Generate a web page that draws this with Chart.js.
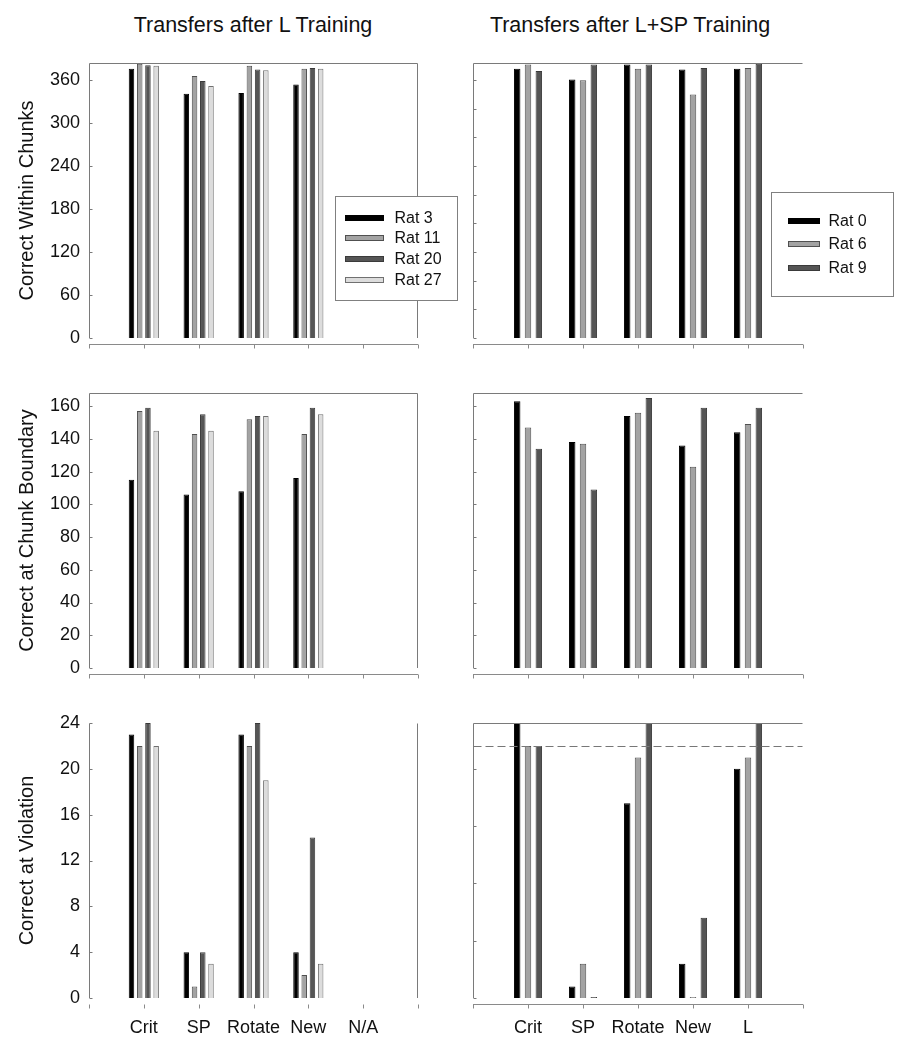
<!DOCTYPE html>
<html>
<head>
<meta charset="utf-8">
<script src="https://cdn.jsdelivr.net/npm/chart.js@4.4.1/dist/chart.umd.min.js"></script>
<style>
  body { margin: 0; background: #fff; width: 899px; height: 1050px; position: relative; overflow: hidden;
         font-family: "Liberation Sans", Arial, sans-serif; }
  canvas { position: absolute; }
  .title { position: absolute; top: 13px; width: 400px; text-align: center; font-size: 21.5px; color: #111; }
</style>
</head>
<body>
<div class="title" style="left:53px">Transfers after L Training</div>
<div class="title" style="left:430px">Transfers after L+SP Training</div>

<canvas id="withinL"></canvas>
<canvas id="withinR"></canvas>
<canvas id="boundaryL"></canvas>
<canvas id="boundaryR"></canvas>
<canvas id="violationL"></canvas>
<canvas id="violationR"></canvas>

<script>
// categories
const leftCats = ["Crit", "SP", "Rotate", "New", "N/A"];
const rightCats = ["Crit", "SP", "Rotate", "New", "L"];
const leftRats = ["Rat 3", "Rat 11", "Rat 20", "Rat 27"];
const rightRats = ["Rat 0", "Rat 6", "Rat 9"];

// y tick values
const withinTicksL = [0, 60, 120, 180, 240, 300, 360];
const withinTicksR = [0, 40, 80, 120, 160, 200, 240, 280, 320, 360];
const boundaryTicks = [0, 20, 40, 60, 80, 100, 120, 140, 160];
const violationTicksL = [0, 4, 8, 12, 16, 20, 24];
const violationTicksR = [0, 5, 10, 15, 20];

// after L training: Crit, SP, Rotate, New (N/A empty)
const withinL3 = [376, 341, 342, 354];
const withinL11 = [383, 366, 380, 376];
const withinL20 = [381, 359, 375, 377];
const withinL27 = [380, 352, 374, 376];

const boundaryL3 = [115, 106, 108, 116];
const boundaryL11 = [157, 143, 152, 143];
const boundaryL20 = [159, 155, 154, 159];
const boundaryL27 = [145, 145, 154, 155];

const violationL3 = [23, 4, 23, 4];
const violationL11 = [22, 1, 22, 2];
const violationL20 = [24, 4, 24, 14];
const violationL27 = [22, 3, 19, 3];

// after L+SP training: Crit, SP, Rotate, New, L
const withinR0 = [376, 361, 382, 375, 376];
const withinR6 = [382, 360, 376, 340, 377];
const withinR9 = [373, 382, 382, 377, 383];

const boundaryR0 = [163, 138, 154, 136, 144];
const boundaryR6 = [147, 137, 156, 123, 149];
const boundaryR9 = [134, 109, 165, 159, 159];

const violationR0 = [24, 1, 17, 3, 20];
const violationR6 = [22, 3, 21, 0, 21];
const violationR9 = [22, 0, 24, 7, 24];

const criterion = 22;

const ratFills = ["#000000", "#a3a3a3", "#555555", "#dcdcdc"];
const ratBorders = ["#000000", "#505050", "#3a3a3a", "#707070"];
const FONT = '"Liberation Sans", Arial, sans-serif';

// draws the frame, inward y ticks, detached x axis, legend and criterion line
const panelDecor = {
  id: "panelDecor",
  afterDatasetsDraw(chart, args, o) {
    const ctx = chart.ctx;
    const ca = chart.chartArea;
    const xs = chart.scales.x, ys = chart.scales.y;
    ctx.save();
    ctx.lineWidth = 1;
    ctx.strokeStyle = "#7a7a7a";
    const L = Math.round(ca.left) + 0.5, R = Math.round(ca.right) - 0.5;
    const T = Math.round(ca.top) + 0.5, B = Math.round(ca.bottom);
    ctx.beginPath();
    ctx.moveTo(L, B); ctx.lineTo(L, T);
    if (o.frameTop) { ctx.moveTo(L, T); ctx.lineTo(R, T); }
    if (o.frameRight) { ctx.moveTo(R, T); ctx.lineTo(R, B); }
    ctx.stroke();

    // inward tick marks on y axis
    ctx.beginPath();
    ys.ticks.forEach(t => {
      const y = Math.round(ys.getPixelForValue(t.value)) + 0.5;
      ctx.moveTo(L, y); ctx.lineTo(L + 3, y);
    });
    ctx.stroke();

    // detached x axis
    const ay = B + 6.5;
    ctx.strokeStyle = "#8a8a8a";
    ctx.beginPath();
    if (o.axisLine) { ctx.moveTo(L - 0.5, ay); ctx.lineTo(R + 0.5, ay); }
    xs.ticks.forEach((t, i) => {
      const x = Math.round(xs.getPixelForTick(i)) + 0.5;
      ctx.moveTo(x, ay); ctx.lineTo(x, ay + 4);
    });
    ctx.stroke();

    if (o.criterion != null) {
      const y = Math.round(ys.getPixelForValue(o.criterion)) + 0.5;
      ctx.setLineDash([8, 4]);
      ctx.strokeStyle = "#777";
      ctx.beginPath(); ctx.moveTo(L, y); ctx.lineTo(R, y); ctx.stroke();
      ctx.setLineDash([]);
    }

    const lg = o.legend;
    if (lg) {
      const bx = Math.round(ca.left + lg.x) + 0.5, by = Math.round(ca.top + lg.y) + 0.5;
      ctx.fillStyle = "#fff";
      ctx.fillRect(bx, by, lg.w, lg.h);
      ctx.strokeStyle = "#808080";
      ctx.strokeRect(bx, by, lg.w, lg.h);
      ctx.font = "16px " + FONT;
      ctx.textBaseline = "middle";
      chart.data.datasets.forEach((ds, i) => {
        const ry = Math.round(by + lg.row0 + i * lg.gap);
        ctx.fillStyle = ds.backgroundColor;
        ctx.fillRect(bx + lg.sx, ry - 3, lg.sw, 6);
        ctx.strokeStyle = ds.borderColor;
        ctx.strokeRect(bx + lg.sx, ry - 3 + 0.5, lg.sw, 5);
        ctx.fillStyle = "#111";
        ctx.fillText(ds.label, bx + lg.tx, ry + 1);
      });
    }
    ctx.restore();
  }
};

const rowTops = [43, 373, 703];
const plotH = 275;

function makePanel(id, col, row, cats, names, series, cfg) {
  const el = document.getElementById(id);
  const xH = row === 2 ? 50 : 30;
  const w = col === 0 ? 470 : 459;
  const h = 20 + plotH + xH;
  el.width = w; el.height = h;
  el.style.left = (col === 0 ? 0 : 440) + "px";
  el.style.top = rowTops[row] + "px";
  el.style.width = w + "px"; el.style.height = h + "px";

  const labels = ["", ...cats, ""];
  const datasets = series.map((vals, i) => ({
    label: names[i],
    data: [null, ...vals, ...Array(labels.length - 1 - vals.length).fill(null)],
    backgroundColor: ratFills[i],
    borderColor: ratBorders[i],
    borderWidth: 1,
    categoryPercentage: col === 0 ? 0.6 : 0.59,
    barPercentage: col === 0 ? 0.67 : 0.6,
    minBarLength: cfg.minBar || 0
  }));

  return new Chart(el, {
    type: "bar",
    data: { labels, datasets },
    plugins: [panelDecor],
    options: {
      responsive: false,
      animation: false,
      devicePixelRatio: 1,
      layout: { padding: { left: col === 0 ? 11 : 0, right: col === 0 ? 52 : 96, top: 20, bottom: 0 } },
      plugins: {
        legend: { display: false },
        tooltip: { enabled: false },
        panelDecor: {
          frameTop: cfg.frameTop !== false,
          frameRight: col === 0,
          axisLine: cfg.axisLine !== false,
          legend: cfg.legend,
          criterion: cfg.criterion
        }
      },
      scales: {
        x: {
          type: "category",
          offset: false,
          grid: { display: false, drawTicks: false },
          border: { display: false },
          ticks: { display: row === 2, autoSkip: false, maxRotation: 0, padding: 19,
                   color: "#111", font: { family: FONT, size: 18 } },
          afterFit: s => { s.height = xH; }
        },
        y: {
          min: 0, max: cfg.max,
          grid: { display: false, drawTicks: false },
          border: { display: false },
          ticks: { display: col === 0, padding: 9,
                   color: "#111", font: { family: FONT, size: 18 } },
          title: { display: !!cfg.yTitle, text: cfg.yTitle, color: "#111",
                   font: { family: FONT, size: 20 }, padding: { top: 4, bottom: 4 } },
          afterBuildTicks: s => { s.ticks = cfg.ticks.map(v => ({ value: v })); },
          afterFit: s => { s.width = col === 0 ? 78 : 33; }
        }
      }
    }
  });
}

const legendL = { x: 246, y: 133, w: 122, h: 104, row0: 21, gap: 20.7, sx: 10, sw: 38, tx: 59 };
const legendR = { x: 298, y: 129, w: 122, h: 104, row0: 28, gap: 23.5, sx: 17, sw: 31, tx: 57 };

makePanel("withinL", 0, 0, leftCats, leftRats,
  [withinL3, withinL11, withinL20, withinL27],
  { max: 384, ticks: withinTicksL, yTitle: "Correct Within Chunks", legend: legendL });
makePanel("withinR", 1, 0, rightCats, rightRats,
  [withinR0, withinR6, withinR9],
  { max: 384, ticks: withinTicksR, legend: legendR });
makePanel("boundaryL", 0, 1, leftCats, leftRats,
  [boundaryL3, boundaryL11, boundaryL20, boundaryL27],
  { max: 168, ticks: boundaryTicks, yTitle: "Correct at Chunk Boundary" });
makePanel("boundaryR", 1, 1, rightCats, rightRats,
  [boundaryR0, boundaryR6, boundaryR9],
  { max: 168, ticks: boundaryTicks });
makePanel("violationL", 0, 2, leftCats, leftRats,
  [violationL3, violationL11, violationL20, violationL27],
  { max: 24, ticks: violationTicksL, yTitle: "Correct at Violation", frameTop: false, axisLine: false });
makePanel("violationR", 1, 2, rightCats, rightRats,
  [violationR0, violationR6, violationR9],
  { max: 24, ticks: violationTicksR, criterion: criterion, minBar: 1 });
</script>
</body>
</html>
